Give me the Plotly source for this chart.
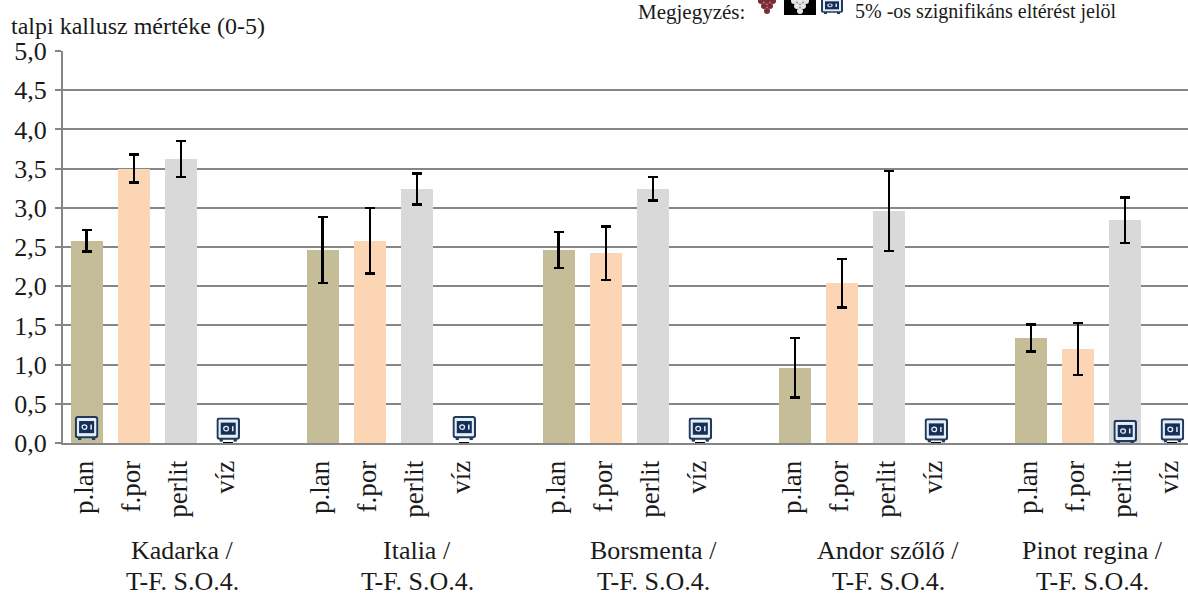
import base64
import plotly.graph_objects as go

varieties = ["Kadarka", "Italia", "Borsmenta", "Andor szőlő", "Pinot regina"]
treatments = ["p.lan", "f.por", "perlit", "víz"]
treatment_colors = ["#C4BD97", "#FCD5B5", "#D9D9D9", "#FFFFFF"]
values = [
    [2.58, 3.50, 3.62, 0.0],
    [2.46, 2.58, 3.24, 0.0],
    [2.46, 2.42, 3.24, 0.0],
    [0.96, 2.04, 2.96, 0.0],
    [1.34, 1.20, 2.84, 0.0],
]
errors = [
    [0.14, 0.18, 0.23, 0.0],
    [0.42, 0.42, 0.20, 0.0],
    [0.23, 0.34, 0.15, 0.0],
    [0.38, 0.31, 0.51, 0.0],
    [0.17, 0.33, 0.29, 0.0],
]
label_x = [2.04, 7.0, 12.0, 16.98, 21.3]
sig_x = [0, 3, 8, 13, 18, 22, 23]
sig_y = [0.19, 0.17, 0.19, 0.17, 0.16, 0.14, 0.16]

FONT = "Liberation Serif"
TEXT = "#1a1a1a"
GRID = "#868686"


def uri(svg):
    return "data:image/svg+xml;base64," + base64.b64encode(svg.encode()).decode()


SAFE = uri(
    '<svg xmlns="http://www.w3.org/2000/svg" viewBox="0 0 22 24">'
    '<rect x="1" y="1" width="20" height="20" rx="2" fill="#E8EDF4" stroke="#1F3A5F" stroke-width="2"/>'
    '<rect x="4" y="5" width="14" height="12" fill="#14305A"/>'
    '<circle cx="9" cy="11" r="2.2" fill="none" stroke="#E8EDF4" stroke-width="1.2"/>'
    '<rect x="14.5" y="8.5" width="1.4" height="5" fill="#E8EDF4"/>'
    '<rect x="3" y="21" width="3" height="3" fill="#1F3A5F"/>'
    '<rect x="16" y="21" width="3" height="3" fill="#1F3A5F"/></svg>'
)


def grapes(color, bg=None):
    bgr = f'<rect width="32" height="16" fill="{bg}"/>' if bg else ""
    pts = [(10, 2), (16, 2), (22, 2), (13, 7), (19, 7), (16, 12)]
    cs = "".join(f'<circle cx="{a}" cy="{b}" r="3" fill="{color}"/>' for a, b in pts)
    return uri(f'<svg xmlns="http://www.w3.org/2000/svg" viewBox="0 0 32 16">{bgr}{cs}</svg>')


fig = go.Figure()
xs, ys, es, cs = [], [], [], []
for g, (vals, errs) in enumerate(zip(values, errors)):
    for t in range(len(treatments)):
        xs.append(g * 5 + t)
        ys.append(vals[t])
        es.append(errs[t])
        cs.append(treatment_colors[t])

fig.add_trace(go.Bar(
    x=xs, y=ys, width=0.68, marker=dict(color=cs, line=dict(width=0)),
    error_y=dict(type="data", array=es, visible=True, color="#000000", thickness=2.5, width=5),
    showlegend=False,
))

images = []
for x, y in zip(sig_x, sig_y):
    images.append(dict(source=SAFE, xref="x", yref="y", x=x, y=y, sizex=0.5, sizey=0.31,
                       xanchor="center", yanchor="middle", sizing="stretch", layer="above"))

PX = lambda p: (p - 63) / 1125
PY = lambda p: 1 + (51 - p) / 392
images.append(dict(source=grapes("#7B2C34"), xref="paper", yref="paper", x=PX(751), y=PY(-1),
                   sizex=32 / 1125, sizey=16 / 392, xanchor="left", yanchor="top", sizing="stretch"))
images.append(dict(source=grapes("#E6E6E6", "#000000"), xref="paper", yref="paper", x=PX(784), y=PY(-1),
                   sizex=32 / 1125, sizey=16 / 392, xanchor="left", yanchor="top", sizing="stretch"))
images.append(dict(source=SAFE, xref="paper", yref="paper", x=PX(821), y=PY(-2),
                   sizex=22 / 1125, sizey=16 / 392, xanchor="left", yanchor="top", sizing="stretch"))

annotations = [
    dict(text="talpi kallusz mértéke (0-5)", xref="paper", yref="paper", x=PX(9), y=PY(26),
         xanchor="left", yanchor="middle", showarrow=False, font=dict(size=24, family=FONT, color=TEXT)),
    dict(text="Megjegyzés:", xref="paper", yref="paper", x=PX(636), y=PY(12),
         xanchor="left", yanchor="middle", showarrow=False, font=dict(size=21, family=FONT, color=TEXT)),
    dict(text="5% -os szignifikáns eltérést jelöl", xref="paper", yref="paper", x=PX(853), y=PY(12),
         xanchor="left", yanchor="middle", showarrow=False, font=dict(size=20, family=FONT, color=TEXT)),
]
for name, x in zip(varieties, label_x):
    annotations.append(dict(text=f"{name} /", xref="x", yref="paper", x=x, y=PY(550),
                            xanchor="center", yanchor="middle", showarrow=False,
                            font=dict(size=26, family=FONT, color=TEXT)))
    annotations.append(dict(text="T-F. S.O.4.", xref="x", yref="paper", x=x, y=PY(581),
                            xanchor="center", yanchor="middle", showarrow=False,
                            font=dict(size=26, family=FONT, color=TEXT)))

fig.update_layout(
    width=1188, height=596, autosize=False,
    margin=dict(l=63, r=0, t=51, b=153),
    paper_bgcolor="white", plot_bgcolor="white",
    separators=", ",
    bargap=0, images=images, annotations=annotations,
    font=dict(family=FONT, color=TEXT),
    xaxis=dict(range=[-0.5, 23.33], tickmode="array", tickvals=[x - 0.06 for x in xs],
               ticktext=[treatments[i % 5] for i in xs],
               tickangle=-90, tickfont=dict(size=27, family=FONT, color=TEXT),
               showgrid=False, zeroline=False, showline=True, linecolor=GRID, linewidth=2,
               ticks="", ticklabelstandoff=5),
    yaxis=dict(range=[0, 5], tick0=0, dtick=0.5, tickformat=".1f",
               tickfont=dict(size=26, family=FONT, color=TEXT),
               showgrid=True, gridcolor=GRID, gridwidth=2, zeroline=False,
               showline=True, linecolor=GRID, linewidth=2, ticks="outside", ticklen=6,
               tickcolor=GRID, tickwidth=2, ticklabelstandoff=3),
)
fig.write_html("out.html", config=dict(displayModeBar=False),
               post_script="document.body.style.margin='0';document.body.style.overflow='hidden';")
